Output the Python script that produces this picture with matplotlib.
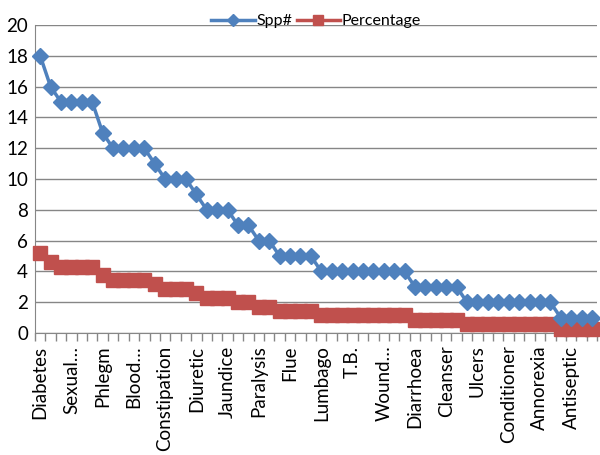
import numpy as np
import matplotlib.pyplot as plt

# species count per ailment (sorted), 54 categories
spp = [18, 16, 15, 15, 15, 15, 13, 12, 12, 12, 12, 11, 10, 10, 10, 9, 8, 8, 8,
       7, 7, 6, 6, 5, 5, 5, 5, 4, 4, 4, 4, 4, 4, 4, 4, 4, 3, 3, 3, 3, 3,
       2, 2, 2, 2, 2, 2, 2, 2, 2, 1, 1, 1, 1]
pct = [5.17, 4.60, 4.31, 4.31, 4.31, 4.31, 3.74, 3.45, 3.45, 3.45, 3.45, 3.16,
       2.87, 2.87, 2.87, 2.59, 2.30, 2.30, 2.30, 2.01, 2.01, 1.72, 1.72,
       1.44, 1.44, 1.44, 1.44, 1.15, 1.15, 1.15, 1.15, 1.15, 1.15, 1.15, 1.15,
       1.15, 0.86, 0.86, 0.86, 0.86, 0.86, 0.57, 0.57, 0.57, 0.57, 0.57, 0.57,
       0.57, 0.57, 0.57, 0.29, 0.29, 0.29, 0.29]
# only every third category label is shown on the axis
shown_labels = ["Diabetes", "Sexual\u2026", "Phlegm", "Blood\u2026", "Constipation",
                "Diuretic", "Jaundice", "Paralysis", "Flue", "Lumbago", "T.B.",
                "Wound\u2026", "Diarrhoea", "Cleanser", "Ulcers", "Conditioner",
                "Annorexia", "Antiseptic"]

plt.rcParams['font.family'] = ['Lato', 'DejaVu Sans']

blue = "#4F81BD"
red = "#C0504D"
grid = "#868686"
fs = 13.5

x = np.arange(len(spp))

fig = plt.figure(figsize=(6, 4.55), dpi=100)
ax = fig.add_axes([0.0583, 0.268, 0.937, 0.677])

ax.plot(x, spp, color=blue, lw=2.5, marker="D", ms=8, mec=blue, mfc=blue,
        label="Spp#", clip_on=False, zorder=4)
ax.plot(x, pct, color=red, lw=2.5, marker="s", ms=10, mec=red, mfc=red,
        label="Percentage", clip_on=False, zorder=3)

ax.set_xlim(-0.5, len(spp) - 0.5)
ax.set_ylim(0, 20)
ax.set_yticks(np.arange(0, 21, 2))
ax.yaxis.grid(True, color=grid, lw=1)
ax.set_axisbelow(True)

ax.set_xticks(x[::3])
ax.set_xticklabels(shown_labels, rotation=90, fontsize=fs)
ax.set_xticks(np.arange(-0.5, len(spp)), minor=True)
ax.tick_params(axis="x", which="major", length=0, pad=9)
ax.tick_params(axis="x", which="minor", length=6, color=grid, width=1)
ax.tick_params(axis="y", length=0, labelsize=fs, pad=5)

for side in ["top", "right"]:
    ax.spines[side].set_visible(False)
for side in ["left", "bottom"]:
    ax.spines[side].set_color(grid)

ax.legend(loc="lower center", bbox_to_anchor=(0.5, 0.99), ncol=2, frameon=False,
          fontsize=11.5, handlelength=2.7, columnspacing=0.3, handletextpad=0.1,
          borderaxespad=0, borderpad=0, markerscale=0.75)

fig.savefig("out.png", dpi=100)
